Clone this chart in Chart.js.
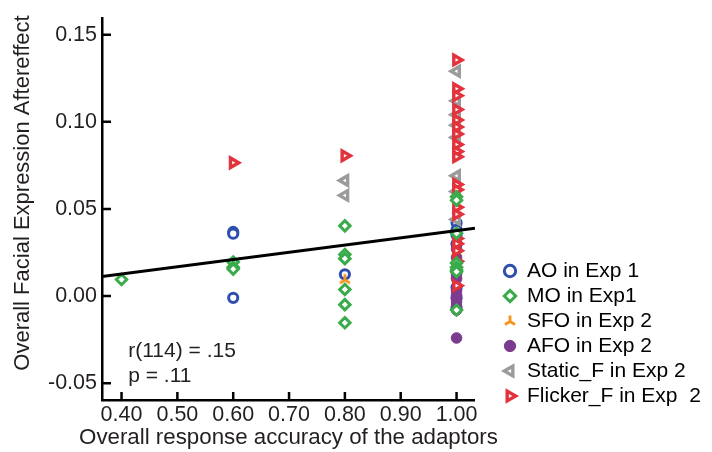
<!DOCTYPE html>
<html>
<head>
<meta charset="utf-8">
<script src="https://cdn.jsdelivr.net/npm/chart.js@4.4.0/dist/chart.umd.min.js"></script>
<style>
  html, body { margin: 0; padding: 0; background: #fff; }
  canvas { display: block; }
</style>
</head>
<body>
<canvas id="chart" width="712" height="452"></canvas>
<script>
// values
var xTicks = [0.40, 0.50, 0.60, 0.70, 0.80, 0.90, 1.00];
var yTicks = [-0.05, 0.00, 0.05, 0.10, 0.15];

var aoX = [0.6, 0.6, 0.6, 0.8, 1, 1, 1, 1, 1, 1, 1];
var aoY = [0.0368, 0.0358, -0.001, 0.0125, 0.042, 0.038, 0.035, 0.030, 0.005, -0.001, -0.007];

var moX = [0.4, 0.6, 0.6, 0.6, 0.8, 0.8, 0.8, 0.8, 0.8, 0.8, 1, 1, 1, 1, 1, 1, 1, 1];
var moY = [0.0095, 0.0195, 0.0165, 0.0155, 0.0403, 0.0239, 0.0215, 0.0038, -0.0049, -0.0153,
           0.057, 0.055, 0.019, 0.0165, 0.015, 0.014, -0.008, 0.036];

var sfoX = [0.8, 1, 1];
var sfoY = [0.0095, 0.025, 0.012];

var afoX = [1, 1, 1, 1, 1, 1, 1, 1, 1, 1, 1, 1, 1];
var afoY = [0.0295, 0.027, 0.022, 0.0135, 0.0126, 0.010, 0.003, 0.0005, -0.0015, -0.0034, -0.006, -0.008, -0.024];

var staticX = [0.8, 0.8, 1, 1, 1, 1, 1, 1, 1, 1];
var staticY = [0.0663, 0.0578, 0.129, 0.112, 0.104, 0.098, 0.091, 0.069, 0.060, 0.044];

var flickerX = [0.6, 0.8, 1, 1, 1, 1, 1, 1, 1, 1, 1, 1, 1, 1, 1, 1, 1, 1, 1, 1, 1];
var flickerY = [0.0765, 0.0805, 0.1355, 0.119, 0.115, 0.107, 0.101, 0.097, 0.093, 0.087, 0.083, 0.080,
                0.064, 0.061, 0.051, 0.047, 0.033, 0.030, 0.026, 0.020, 0.006];

var fitX = [0.365, 1.033];
var fitY = [0.0112, 0.039];

var xTitle = 'Overall response accuracy of the adaptors';
var yTitle = 'Overall Facial Expression Aftereffect';

function pts(xs, ys) {
    return xs.map(function(x, i) { return {x: x, y: ys[i]}; });
}

// three-armed marker for SFO
var triStar = document.createElement('canvas');
triStar.width = 14; triStar.height = 14;
(function() {
    var c = triStar.getContext('2d');
    c.strokeStyle = '#f7941d';
    c.lineWidth = 2.8;
    c.beginPath();
    c.moveTo(7, 7.5); c.lineTo(7, 1.5);
    c.moveTo(7, 7.5); c.lineTo(2, 10.5);
    c.moveTo(7, 7.5); c.lineTo(12, 10.5);
    c.stroke();
})();

var FONT = '"Liberation Sans", Arial, sans-serif';
var INK = '#231f20';

var extras = {
    id: 'extras',
    afterLayout: function(chart) {
        var lg = chart.legend;
        lg.left = 499.5; lg.right = 712;
        lg.top = 12; lg.bottom = 410.5;
    },
    afterDatasetsDraw: function(chart) {
        var ctx = chart.ctx, a = chart.chartArea;
        var xs = chart.scales.x, ys = chart.scales.y;
        ctx.save();
        ctx.strokeStyle = '#000';
        ctx.lineWidth = 2.5;
        ctx.beginPath();
        xTicks.forEach(function(v) {
            var p = xs.getPixelForValue(v);
            ctx.moveTo(p, a.bottom); ctx.lineTo(p, a.bottom - 8);
        });
        yTicks.forEach(function(v) {
            var p = ys.getPixelForValue(v);
            ctx.moveTo(a.left, p); ctx.lineTo(a.left + 9, p);
        });
        ctx.stroke();

        ctx.fillStyle = INK;
        ctx.font = '21px ' + FONT;
        ctx.textBaseline = 'middle';
        ctx.fillText('r(114) = .15', xs.getPixelForValue(0.412), ys.getPixelForValue(-0.0316));
        ctx.fillText('p = .11', xs.getPixelForValue(0.412), ys.getPixelForValue(-0.0458));

        // axis titles (drawn here so they are not squeezed to the axis width)
        ctx.font = '22.3px ' + FONT;
        ctx.textAlign = 'center';
        ctx.fillText(xTitle, (a.left + a.right) / 2, 438);
        ctx.font = '22px ' + FONT;
        ctx.translate(23, 193);
        ctx.rotate(-Math.PI / 2);
        ctx.fillText(yTitle, 0, 0);
        ctx.restore();
    }
};

Chart.defaults.font.family = FONT;
Chart.defaults.font.size = 21.5;
Chart.defaults.color = INK;

var ctx = document.getElementById('chart').getContext('2d');

var chart = new Chart(ctx, {
    type: 'scatter',
    data: {
        datasets: [{
            label: 'AO in Exp 1',
            data: pts(aoX, aoY),
            pointStyle: 'circle',
            borderColor: '#2e4fae',
            backgroundColor: '#fff',
            pointRadius: 4.6,
            pointBorderWidth: 3,
            order: 6
        }, {
            label: 'MO in Exp1',
            data: pts(moX, moY),
            pointStyle: 'rectRot',
            borderColor: '#3aab4a',
            backgroundColor: '#fff',
            pointRadius: 5.2,
            pointBorderWidth: 3,
            order: 1
        }, {
            label: 'SFO in Exp 2',
            data: pts(sfoX, sfoY),
            pointStyle: triStar,
            borderColor: '#f7941d',
            backgroundColor: '#f7941d',
            pointRadius: 5,
            pointBorderWidth: 0,
            order: 5
        }, {
            label: 'AFO in Exp 2',
            data: pts(afoX, afoY),
            pointStyle: 'circle',
            borderColor: '#7b3c90',
            backgroundColor: '#7b3c90',
            pointRadius: 5.3,
            pointBorderWidth: 1,
            order: 3
        }, {
            label: 'Static_F in Exp 2',
            data: pts(staticX, staticY),
            pointStyle: 'triangle',
            pointRotation: -90,
            borderColor: '#9b9b9b',
            backgroundColor: '#fff',
            pointRadius: 5.5,
            pointBorderWidth: 3.4,
            order: 4
        }, {
            label: 'Flicker_F in Exp  2',
            data: pts(flickerX, flickerY),
            pointStyle: 'triangle',
            pointRotation: 90,
            borderColor: '#e2323c',
            backgroundColor: '#fff',
            pointRadius: 5.5,
            pointBorderWidth: 3.4,
            order: 2
        }, {
            type: 'line',
            label: 'fit',
            data: pts(fitX, fitY),
            borderColor: '#000',
            borderWidth: 3,
            pointRadius: 0,
            fill: false,
            order: 0
        }]
    },
    options: {
        responsive: false,
        animation: false,
        layout: { padding: { top: 12, right: 78.7, bottom: 0, left: 0 } },
        plugins: {
            tooltip: { enabled: false },
            legend: {
                position: 'right',
                align: 'end',
                labels: {
                    usePointStyle: true,
                    boxWidth: 13,
                    boxHeight: 8,
                    padding: 4,
                    color: '#000',
                    font: { size: 21 },
                    sort: function(a, b) { return a.datasetIndex - b.datasetIndex; },
                    filter: function(item) { return item.text !== 'fit'; }
                }
            }
        },
        scales: {
            x: {
                type: 'linear',
                min: 0.365,
                max: 1.033,
                afterBuildTicks: function(s) { s.ticks = xTicks.map(function(v) { return {value: v}; }); },
                afterFit: function(s) { s.height = 52; },
                grid: { display: false, drawTicks: false },
                border: { display: true, color: '#000', width: 2.5 },
                ticks: {
                    padding: 2,
                    color: INK,
                    callback: function(v) { return Number(v).toFixed(2); }
                },
                title: { display: false }
            },
            y: {
                type: 'linear',
                min: -0.0596,
                max: 0.1596,
                afterBuildTicks: function(s) { s.ticks = yTicks.map(function(v) { return {value: v}; }); },
                afterFit: function(s) { s.width = 102; },
                grid: { display: false, drawTicks: false },
                border: { display: true, color: '#000', width: 2.5 },
                ticks: {
                    padding: 5,
                    color: INK,
                    callback: function(v) { return Number(v).toFixed(2); }
                },
                title: { display: false }
            }
        }
    },
    plugins: [extras]
});
</script>
</body>
</html>
